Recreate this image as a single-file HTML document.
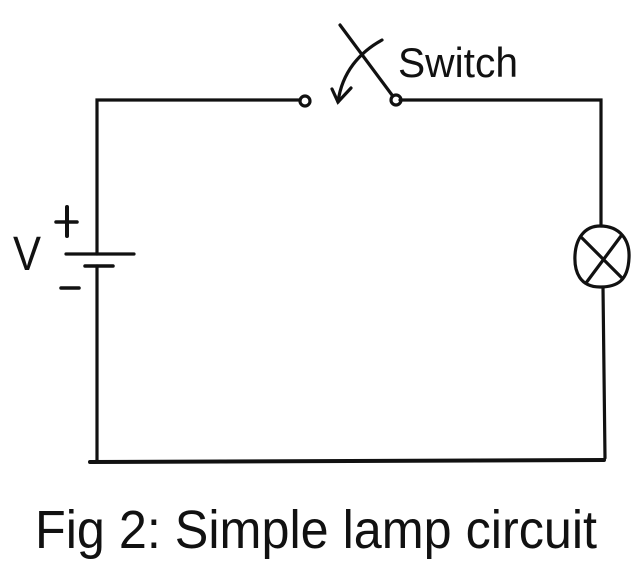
<!DOCTYPE html>
<html><head><meta charset="utf-8"><style>
html,body{margin:0;padding:0;background:#fff;}
svg{display:block;}
text{font-family:"Liberation Sans",sans-serif;fill:#111;}
</style></head><body>
<svg width="640" height="584" viewBox="0 0 640 584" xmlns="http://www.w3.org/2000/svg">
<g stroke="#111" stroke-width="3.2" fill="none" stroke-linecap="round">
  <polyline points="300,100 97,100 97,254"/>
  <line x1="66" y1="254" x2="134" y2="254"/>
  <line x1="85" y1="266" x2="113" y2="266" stroke-width="3.5"/>
  <polyline points="97,266 97,461"/>
  <line x1="90" y1="462" x2="604" y2="460" stroke-width="4"/>
  <polyline points="400,100 601,100 601,226"/>
  <line x1="603" y1="287" x2="605" y2="458"/>
  <path d="M600,226 C620,226 630,240 629,258 C628,280 618,287 600,287 C580,287 574,272 575,255 C576,238 585,226 600,226 Z"/>
  <line x1="582" y1="238" x2="622" y2="278"/>
  <line x1="621" y1="236" x2="586" y2="283"/>
  <circle cx="305" cy="101" r="5"/>
  <circle cx="396" cy="100" r="5"/>
  <line x1="340" y1="25" x2="392" y2="95"/>
  <path d="M382,40 C360,52 342,72 338,102"/>
  <polyline points="332,89 338,102 351,88"/>
  <line x1="61" y1="288" x2="79" y2="288" stroke-width="3.5"/>
  <line x1="56" y1="222" x2="77" y2="222" stroke-width="3.5"/>
  <line x1="67" y1="207" x2="67" y2="236" stroke-width="4"/>
</g>
<text x="398" y="77" font-size="42" textLength="120" lengthAdjust="spacingAndGlyphs">Switch</text>
<text x="13" y="270" font-size="48" textLength="28" lengthAdjust="spacingAndGlyphs">V</text>
<text x="35" y="548" font-size="54" textLength="562" lengthAdjust="spacingAndGlyphs">Fig 2: Simple lamp circuit</text>
</svg>
</body></html>
